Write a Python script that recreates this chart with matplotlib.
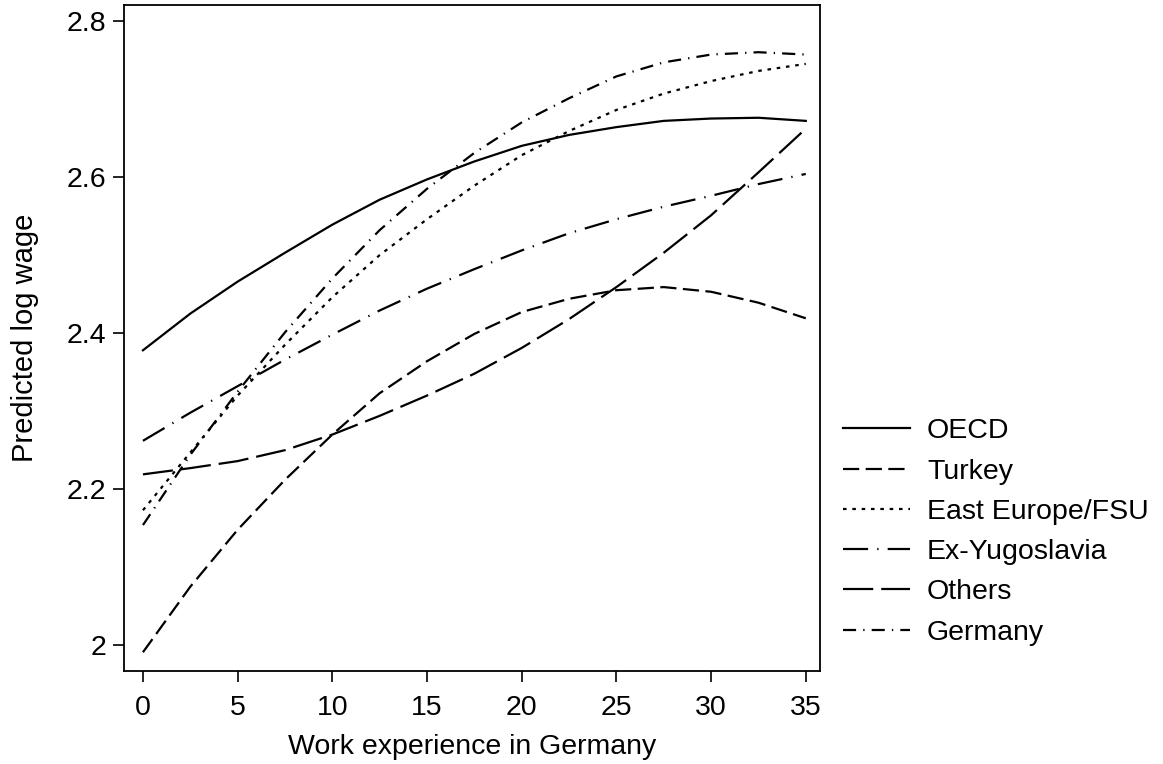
import matplotlib.pyplot as plt

# Predicted log wage by years of work experience in Germany
experience = [0, 2.5, 5, 7.5, 10, 12.5, 15, 17.5, 20, 22.5, 25, 27.5, 30, 32.5, 35]

oecd = [2.378, 2.425, 2.466, 2.503, 2.539, 2.571, 2.597, 2.620, 2.640, 2.654,
        2.664, 2.672, 2.675, 2.676, 2.672]
turkey = [1.991, 2.075, 2.148, 2.212, 2.270, 2.323, 2.364, 2.399, 2.427, 2.444,
          2.455, 2.459, 2.453, 2.439, 2.419]
east_europe = [2.173, 2.247, 2.320, 2.385, 2.446, 2.500, 2.546, 2.589, 2.628, 2.659,
               2.686, 2.707, 2.723, 2.736, 2.745]
ex_yugo = [2.262, 2.298, 2.332, 2.366, 2.398, 2.429, 2.457, 2.482, 2.506, 2.528,
           2.546, 2.562, 2.576, 2.591, 2.604]
others = [2.219, 2.227, 2.236, 2.250, 2.270, 2.294, 2.320, 2.348, 2.381, 2.418,
          2.459, 2.503, 2.551, 2.606, 2.662]
germany = [2.154, 2.244, 2.325, 2.401, 2.470, 2.532, 2.585, 2.631, 2.670, 2.701,
           2.729, 2.747, 2.757, 2.760, 2.757]

labels = ["OECD", "Turkey", "East Europe/FSU", "Ex-Yugoslavia", "Others", "Germany"]
series = [oecd, turkey, east_europe, ex_yugo, others, germany]

x_ticks = [0, 5, 10, 15, 20, 25, 30, 35]
y_ticks = [2.0, 2.2, 2.4, 2.6, 2.8]
y_tick_labels = ["2", "2.2", "2.4", "2.6", "2.8"]

# Stata-like line patterns (in units of line width)
styles = [
    "-",
    (0, (7.3, 2.9)),
    (0, (1.6, 2.6)),
    (0, (11.3, 4.1, 0.6, 4.1)),
    (0, (13.6, 3.6)),
    (0, (5.9, 3.2, 0.6, 3.2)),
]

plt.rcParams.update({
    "font.family": ["Liberation Sans", "DejaVu Sans"],
    "font.size": 20.5,
})

fig = plt.figure(figsize=(11.63, 7.64), dpi=100)
ax = fig.add_axes([124 / 1163, 1 - 671 / 764, (820 - 124) / 1163, (671 - 5) / 764])

for vals, lab, ls in zip(series, labels, styles):
    ax.plot(experience, vals, color="black", linestyle=ls, linewidth=1.6, label=lab)

ax.set_xlim(-1.0, 35.75)
ax.set_ylim(1.967, 2.8205)
ax.set_xticks(x_ticks)
ax.set_yticks(y_ticks)
ax.set_yticklabels(y_tick_labels)
ax.tick_params(direction="out", length=8, width=1.2, labelsize=20.5)
ax.tick_params(axis="x", pad=9)
ax.tick_params(axis="y", pad=5)
for s in ax.spines.values():
    s.set_linewidth(1.3)

ax.set_xlabel("Work experience in Germany", fontsize=20.5, labelpad=10)
ax.set_ylabel("Predicted log wage", fontsize=21, labelpad=20)

fig.legend(loc="center left", bbox_to_anchor=(843 / 1163, 1 - 532 / 764),
           frameon=False, borderpad=0, borderaxespad=0, handlelength=2.35,
           handletextpad=0.6, labelspacing=0.5, fontsize=20.5)

fig.savefig("out.png", dpi=100)
